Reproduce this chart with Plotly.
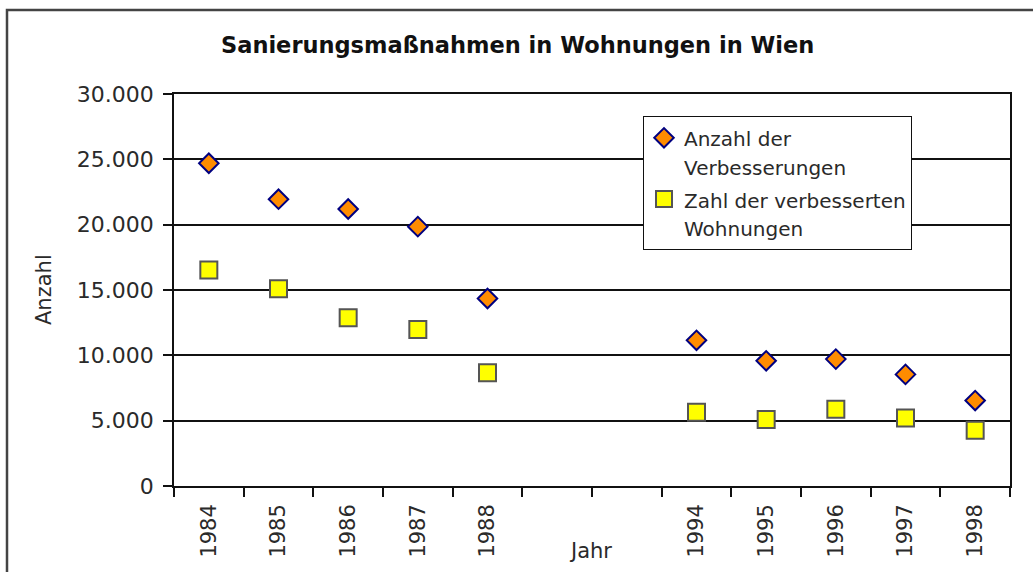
import plotly.graph_objects as go

# categories (two empty slots between 1988 and 1994, as in the reference axis)
categories = ["1984", "1985", "1986", "1987", "1988", " ", "  ",
              "1994", "1995", "1996", "1997", "1998"]
verbesserungen = [24700, 21950, 21200, 19850, 14350, None, None,
                  11150, 9580, 9710, 8540, 6540]
wohnungen = [16530, 15100, 12870, 11980, 8660, None, None,
             5650, 5090, 5880, 5210, 4270]

name_a = "Anzahl der<br>Verbesserungen"
name_b = "Zahl der verbesserten<br>Wohnungen"
title_text = "Sanierungsmaßnahmen in Wohnungen in Wien"

W, H = 1033, 572
L, R, T, B = 174, 23, 94, 86
pw, ph = W - L - R, H - T - B

TXT = "#2a2a2a"


def legend_label(s):
    return "<span style='font-size:20px'>" + s.replace(
        "<br>", "</span><br><span style='font-size:20px'>") + "</span>"


fig = go.Figure()
fig.add_trace(go.Scatter(
    x=categories, y=verbesserungen, mode="markers", name=legend_label(name_a),
    legendgroup="a",
    marker=dict(symbol="diamond", size=15, color="#FF8C00",
                line=dict(color="#000080", width=2)),
))
fig.add_trace(go.Scatter(
    x=categories, y=wohnungen, mode="markers", name=legend_label(name_b),
    legendgroup="b",
    marker=dict(symbol="square", size=17, color="#FFFF00",
                line=dict(color="#555555", width=2)),
))


def px_x(p):
    return (p - L) / pw


def px_y(p):
    return (H - B - p) / ph


fig.update_layout(
    width=W, height=H,
    margin=dict(l=L, r=R, t=T, b=B, autoexpand=False),
    paper_bgcolor="white", plot_bgcolor="white",
    separators=",.",
    font=dict(family="DejaVu Sans", size=21, color=TXT),
    showlegend=True,
    legend=dict(
        x=px_x(643), y=px_y(116), xanchor="left", yanchor="top",
        bgcolor="white", bordercolor="#111111", borderwidth=1,
        font=dict(family="DejaVu Sans", size=22, color=TXT),
        valign="top", tracegroupgap=1, itemwidth=30,
    ),
    xaxis=dict(
        type="category", categoryorder="array", categoryarray=categories,
        range=[-0.5, len(categories) - 0.5],
        tickson="boundaries", ticks="outside", ticklen=9, tickwidth=1.5,
        tickcolor="#111111", tickangle=-90, ticklabelstandoff=8,
        showline=True, linecolor="#111111", linewidth=1.5, mirror=True,
        showgrid=False, zeroline=False,
        tickfont=dict(family="DejaVu Sans", size=21, color=TXT),
    ),
    yaxis=dict(
        range=[0, 30000], dtick=5000, tickformat=",.0f",
        ticks="outside", ticklen=9, tickwidth=1.5, tickcolor="#111111",
        ticklabelstandoff=5,
        showline=True, linecolor="#111111", linewidth=1.5, mirror=True,
        showgrid=True, gridcolor="#111111", gridwidth=1.5, zeroline=False,
        tickfont=dict(family="DejaVu Sans", size=22, color=TXT),
    ),
    annotations=[
        dict(text="<b>" + title_text + "</b>", xref="paper", yref="paper",
             x=px_x(517), y=px_y(45), xanchor="center", yanchor="middle",
             showarrow=False,
             font=dict(family="DejaVu Sans", size=22.5, color="#111111")),
        dict(text="Anzahl", xref="paper", yref="paper",
             x=px_x(44), y=px_y(290), xanchor="center", yanchor="middle",
             textangle=-90, showarrow=False,
             font=dict(family="DejaVu Sans", size=21, color=TXT)),
        dict(text="Jahr", xref="paper", yref="paper",
             x=px_x(590), y=px_y(551), xanchor="center", yanchor="middle",
             showarrow=False,
             font=dict(family="DejaVu Sans", size=21, color=TXT)),
    ],
    shapes=[
        dict(type="rect", xref="paper", yref="paper",
             x0=px_x(7), x1=px_x(1045), y0=px_y(590), y1=px_y(10),
             line=dict(color="#444444", width=2.5), fillcolor="rgba(0,0,0,0)",
             layer="above"),
    ],
)

fig.write_html("out.html",
               config={"displayModeBar": False},
               post_script="document.body.style.margin='0';"
                           "document.body.style.overflow='hidden';")
